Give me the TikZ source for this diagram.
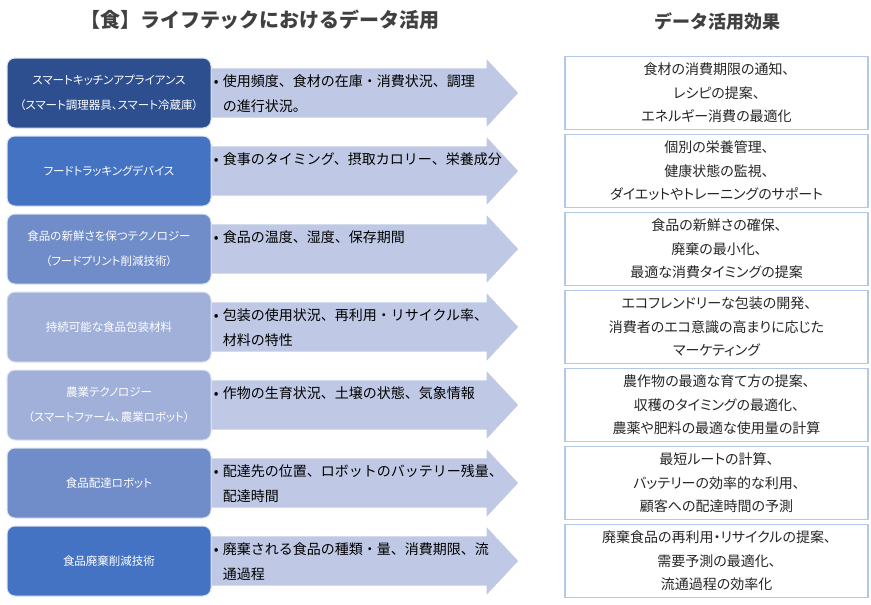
\documentclass[tikz,border=0pt]{standalone}
\usepackage{fontspec}
\setmainfont{Noto Sans CJK JP}
\newfontfamily\jpprop[RawFeature=+palt]{Noto Sans CJK JP}
\usepackage{tikz}
\definecolor{d00}{rgb}{0.25, 0.25, 0.25}
\definecolor{d01}{rgb}{0.18, 0.31, 0.56}
\definecolor{d02}{rgb}{0.27, 0.45, 0.77}
\definecolor{d03}{rgb}{0.44, 0.55, 0.79}
\definecolor{d04}{rgb}{0.63, 0.69, 0.85}
\definecolor{d05}{rgb}{0.75, 0.79, 0.90}
\definecolor{d06}{rgb}{0.71, 0.78, 0.91}
\definecolor{d07}{rgb}{0.86, 0.89, 0.95}
\definecolor{d08}{rgb}{0.15, 0.15, 0.15}
\usetikzlibrary{positioning}
\usetikzlibrary{shapes, arrows}
\tikzstyle{tech} = [draw=d07, rectangle, rounded corners=8pt,
    minimum width=204pt, minimum height=70pt, text=white,
    align=center, line width=1pt,
    font=\jpprop\fontsize{11.5}{25}\selectfont]
\tikzstyle{feed} = [single arrow, fill=d05, inner sep=0pt,
    single arrow head extend=9pt, single arrow tip angle=94,
    single arrow head indent=0pt]
\tikzstyle{gain} = [draw=d06, rectangle, fill=white,
    minimum width=303pt, minimum height=73pt, text=d08,
    align=center, line width=1.2pt,
    font=\jpprop\fontsize{14}{23.5}\selectfont]
\tikzstyle{head} = [text=d00, font=\bfseries]
\newcommand{\pane}[2]{
    \parbox[c][49pt][t]{283pt}{\fontsize{14}{25}\selectfont
    \vspace*{6pt}\hspace*{2pt}\makebox[9pt][l]{\textbullet}#1\\
    \hspace*{11pt}#2}}

\begin{document}
\begin{tikzpicture}[x=1pt, y=-1pt, node distance=7pt]
     \useasboundingbox (0,0) rectangle (871,605);
     % ><>< =================== ><>< %
     % ><><     Headings        ><>< %
     % ><>< =================== ><>< %
     \node [head, font=\bfseries\fontsize{20}{24}\selectfont] (title)
        at (260,20) {【食】ライフテックにおけるデータ活用};
     \node [head, font=\bfseries\fontsize{18}{22}\selectfont] (gainhead)
        at (717,22) {データ活用効果};
     % ><>< =================== ><>< %
     % ><><     Place nodes     ><>< %
     % ><>< =================== ><>< %
     \node [tech, fill=d01] (tech1) at (109,93)
        {スマートキッチンアプライアンス\\（スマート調理器具、スマート冷蔵庫）};
     \node [tech, fill=d02, below=of tech1] (tech2) {フードトラッキングデバイス};
     \node [tech, fill=d03, below=of tech2] (tech3)
        {食品の新鮮さを保つテクノロジー\\（フードプリント削減技術）};
     \node [tech, fill=d04, below=of tech3] (tech4) {持続可能な食品包装材料};
     \node [tech, fill=d04, below=of tech4] (tech5)
        {農業テクノロジー\\（スマートファーム、農業ロボット）};
     \node [tech, fill=d03, below=of tech5] (tech6) {食品配達ロボット};
     \node [tech, fill=d02, below=of tech6] (tech7) {食品廃棄削減技術};
     % ><>< =================== ><>< %
     % ><><     Data arrows     ><>< %
     % ><>< =================== ><>< %
     \node [feed, right=0pt of tech1] (feed1)
        {\pane{使用頻度、食材の在庫・消費状況、調理}{の進行状況。}};
     \node [feed, right=0pt of tech2] (feed2)
        {\pane{食事のタイミング、摂取カロリー、栄養成分}{}};
     \node [feed, right=0pt of tech3] (feed3)
        {\pane{食品の温度、湿度、保存期間}{}};
     \node [feed, right=0pt of tech4] (feed4)
        {\pane{包装の使用状況、再利用・リサイクル率、}{材料の特性}};
     \node [feed, right=0pt of tech5] (feed5)
        {\pane{作物の生育状況、土壌の状態、気象情報}{}};
     \node [feed, right=0pt of tech6] (feed6)
        {\pane{配達先の位置、ロボットのバッテリー残量、}{配達時間}};
     \node [feed, right=0pt of tech7] (feed7)
        {\pane{廃棄される食品の種類・量、消費期限、流}{通過程}};
     % ><>< =================== ><>< %
     % ><><     Effects         ><>< %
     % ><>< =================== ><>< %
     \node [gain, right=46pt of feed1] (gain1)
        {食材の消費期限の通知、\\レシピの提案、\\エネルギー消費の最適化};
     \node [gain, right=46pt of feed2] (gain2)
        {個別の栄養管理、\\健康状態の監視、\\ダイエットやトレーニングのサポート};
     \node [gain, right=46pt of feed3] (gain3)
        {食品の新鮮さの確保、\\廃棄の最小化、\\最適な消費タイミングの提案};
     \node [gain, right=46pt of feed4] (gain4)
        {エコフレンドリーな包装の開発、\\消費者のエコ意識の高まりに応じた\\マーケティング};
     \node [gain, right=46pt of feed5] (gain5)
        {農作物の最適な育て方の提案、\\収穫のタイミングの最適化、\\農薬や肥料の最適な使用量の計算};
     \node [gain, right=46pt of feed6] (gain6)
        {最短ルートの計算、\\バッテリーの効率的な利用、\\顧客への配達時間の予測};
     \node [gain, right=46pt of feed7] (gain7)
        {廃棄食品の再利用・リサイクルの提案、\\需要予測の最適化、\\流通過程の効率化};
\end{tikzpicture}
\end{document}
